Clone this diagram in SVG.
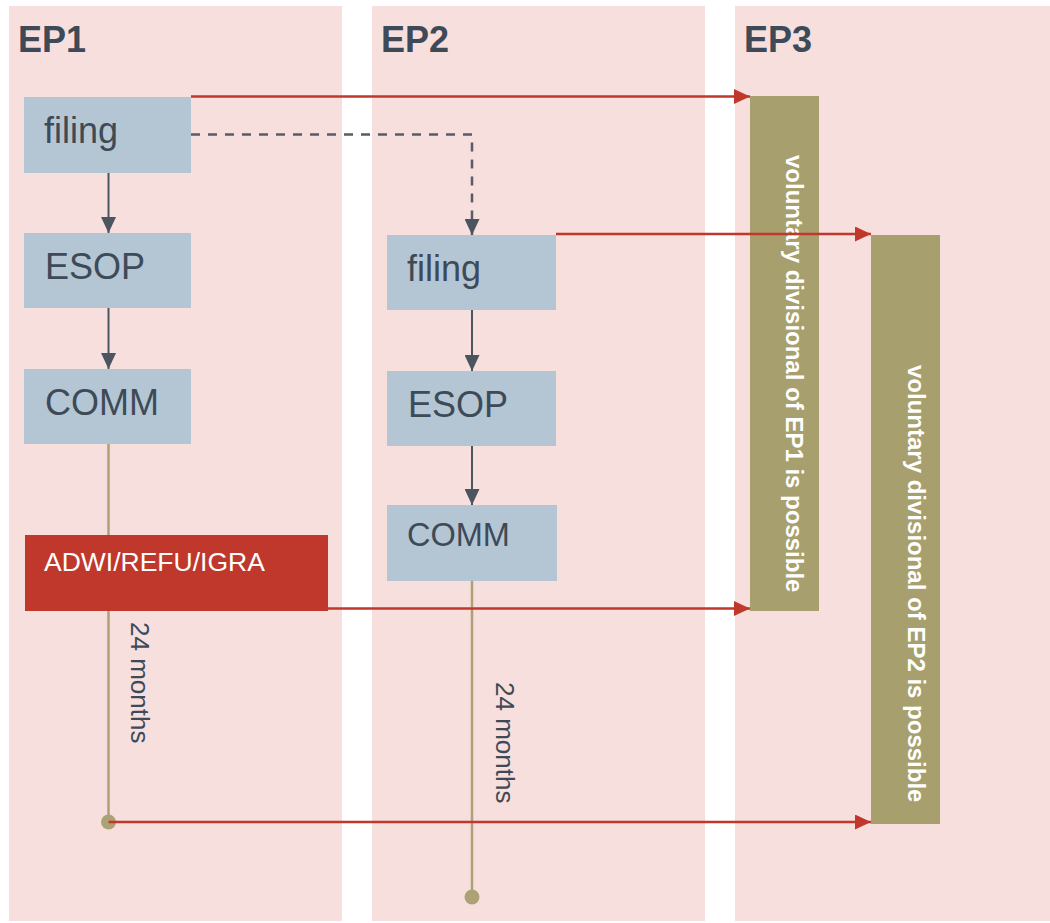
<svg xmlns="http://www.w3.org/2000/svg" width="1050" height="923" viewBox="0 0 1050 923">
  <style>
    .lane { fill: #F7DFDE; }
    .lane-title { font-family: "Liberation Sans", Arial, sans-serif; font-weight: bold; font-size: 36px; fill: #3E4A57; }
    .step { fill: #B4C6D4; }
    .step-text { font-family: "Liberation Sans", Arial, sans-serif; font-size: 36px; fill: #3E4A57; }
    .event { fill: #C0372B; }
    .event-text { font-family: "Liberation Sans", Arial, sans-serif; font-size: 26.5px; fill: #FFFFFF; }
    .bar { fill: #A89F6E; }
    .bar-text { font-family: "Liberation Sans", Arial, sans-serif; font-weight: bold; font-size: 24px; fill: #FFFFFF; }
    .period { stroke: #ADA275; stroke-width: 2.5; fill: none; }
    .period-dot { fill: #ADA275; }
    .period-text { font-family: "Liberation Sans", Arial, sans-serif; font-size: 26px; fill: #3E4A57; }
    .flow { stroke: #4A5560; stroke-width: 2; fill: none; }
    .flow-dashed { stroke: #555E67; stroke-width: 2.5; fill: none; stroke-dasharray: 9 8; }
    .divide { stroke: #C0372B; stroke-width: 2.5; fill: none; }
  </style>
  <defs>
    <marker id="arrow-dark" markerUnits="userSpaceOnUse" markerWidth="16" markerHeight="15" refX="16" refY="7.5" orient="auto">
      <path d="M0,0 L16,7.5 L0,15 z" fill="#4A5560"/>
    </marker>
    <marker id="arrow-red" markerUnits="userSpaceOnUse" markerWidth="16" markerHeight="15" refX="16" refY="7.5" orient="auto">
      <path d="M0,0 L16,7.5 L0,15 z" fill="#C0372B"/>
    </marker>
  </defs>

  <!-- swimlanes -->
  <g id="lanes">
    <rect class="lane" x="9" y="6" width="333" height="915"/>
    <rect class="lane" x="372" y="6" width="333" height="915"/>
    <rect class="lane" x="735" y="6" width="333" height="915"/>
    <text class="lane-title" x="18" y="52">EP1</text>
    <text class="lane-title" x="381" y="52">EP2</text>
    <text class="lane-title" x="744" y="52">EP3</text>
  </g>

  <!-- 24-month periods -->
  <g id="period-ep1">
    <line class="period" x1="108.5" y1="444" x2="108.5" y2="822"/>
    <circle class="period-dot" cx="108.5" cy="822" r="7.5"/>
    <text class="period-text" transform="translate(131,622) rotate(90)">24 months</text>
  </g>
  <g id="period-ep2">
    <line class="period" x1="472" y1="580" x2="472" y2="897"/>
    <circle class="period-dot" cx="472" cy="897" r="7.5"/>
    <text class="period-text" transform="translate(496,682) rotate(90)">24 months</text>
  </g>

  <!-- EP1 steps -->
  <g id="ep1-filing">
    <rect class="step" x="24" y="97" width="167" height="76"/>
    <text class="step-text" x="44" y="143">filing</text>
  </g>
  <g id="ep1-esop">
    <rect class="step" x="24" y="233" width="167" height="75"/>
    <text class="step-text" x="45" y="279">ESOP</text>
  </g>
  <g id="ep1-comm">
    <rect class="step" x="24" y="369" width="167" height="75"/>
    <text class="step-text" x="45" y="415">COMM</text>
  </g>
  <g id="ep1-adwi">
    <rect class="event" x="25" y="535" width="303" height="76"/>
    <text class="event-text" x="44" y="571">ADWI/REFU/IGRA</text>
  </g>

  <!-- EP2 steps -->
  <g id="ep2-filing">
    <rect class="step" x="387" y="235" width="169" height="75"/>
    <text class="step-text" x="407" y="281">filing</text>
  </g>
  <g id="ep2-esop">
    <rect class="step" x="387" y="371" width="169" height="75"/>
    <text class="step-text" x="408" y="417">ESOP</text>
  </g>
  <g id="ep2-comm">
    <rect class="step" x="387" y="505" width="170" height="76"/>
    <text class="step-text" x="407" y="546" style="font-size:32.5px">COMM</text>
  </g>

  <!-- EP3 divisional windows -->
  <g id="ep3-div-ep1">
    <rect class="bar" x="750" y="96" width="69" height="515"/>
    <text class="bar-text" transform="translate(785.5,155) rotate(90)">voluntary divisional of EP1 is possible</text>
  </g>
  <g id="ep3-div-ep2">
    <rect class="bar" x="871" y="235" width="69" height="589"/>
    <text class="bar-text" transform="translate(907.5,365) rotate(90)">voluntary divisional of EP2 is possible</text>
  </g>

  <!-- connectors -->
  <g id="connectors">
    <line class="flow" x1="108.5" y1="173" x2="108.5" y2="233" marker-end="url(#arrow-dark)"/>
    <line class="flow" x1="108.5" y1="308" x2="108.5" y2="369" marker-end="url(#arrow-dark)"/>
    <line class="flow" x1="472" y1="310" x2="472" y2="371" marker-end="url(#arrow-dark)"/>
    <line class="flow" x1="472" y1="446" x2="472" y2="505" marker-end="url(#arrow-dark)"/>
    <polyline class="flow-dashed" points="191,134.5 472,134.5 472,235" marker-end="url(#arrow-dark)"/>
    <line class="divide" x1="191" y1="96.5" x2="750" y2="96.5" marker-end="url(#arrow-red)"/>
    <line class="divide" x1="556" y1="234" x2="871" y2="234" marker-end="url(#arrow-red)"/>
    <line class="divide" x1="328" y1="608.5" x2="750" y2="608.5" marker-end="url(#arrow-red)"/>
    <line class="divide" x1="108.5" y1="822" x2="871" y2="822" marker-end="url(#arrow-red)"/>
  </g>
</svg>
